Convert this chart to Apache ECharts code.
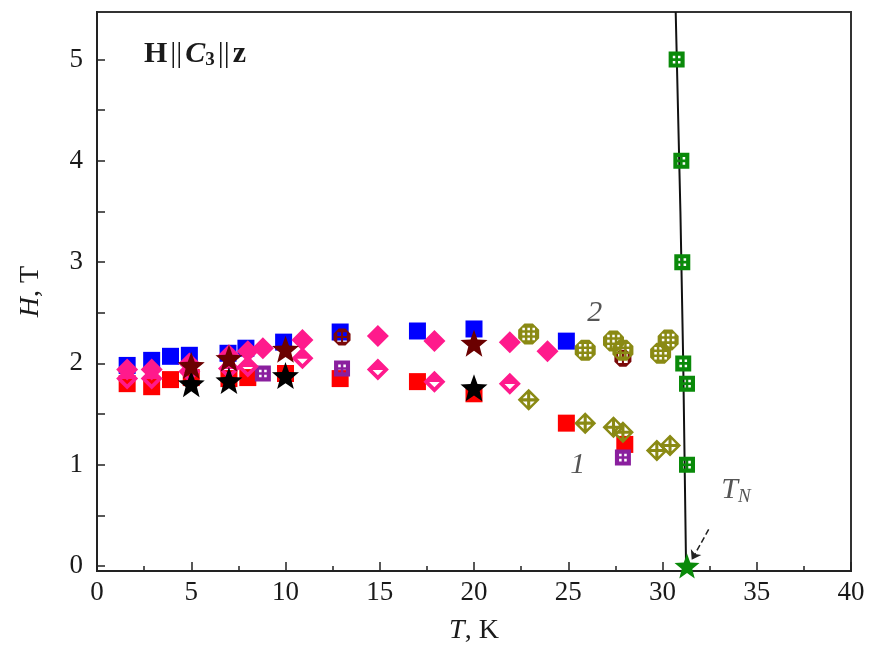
<!DOCTYPE html>
<html>
<head>
<meta charset="utf-8">
<script src="https://cdn.jsdelivr.net/npm/echarts@6/dist/echarts.min.js"></script>
<style>html,body{margin:0;padding:0;background:#fff}#chart{width:875px;height:654px}</style>
</head>
<body>
<div id="chart"></div>
<script>
// ---- data (T in K, H in T) ----
var redSquares    = [[1.6,1.8],[2.9,1.77],[3.9,1.84],[5,1.86],[7,1.85],[8,1.86],[10,1.9],[12.9,1.85],[17,1.82],[20,1.7],[24.9,1.41],[28,1.2]];
var blueSquares   = [[1.6,1.98],[2.9,2.03],[3.9,2.07],[4.9,2.08],[6.95,2.1],[7.9,2.15],[9.9,2.21],[12.9,2.31],[17,2.32],[20,2.34],[24.9,2.22]];
var purpleSquares = [[8.8,1.9],[13,1.95],[27.9,1.07]];
var brownCircles  = [[13,2.26],[27.9,2.05]];
var pinkFilled    = [[1.6,1.94],[2.9,1.94],[4.9,2.0],[7,2.08],[8,2.12],[8.8,2.15],[10.9,2.23],[14.9,2.27],[17.9,2.22],[21.9,2.21],[23.9,2.12]];
var pinkOpen      = [[1.6,1.85],[2.9,1.85],[4.9,1.92],[7,1.95],[8,1.97],[10.9,2.05],[14.9,1.94],[17.9,1.82],[21.9,1.8]];
var blackStars    = [[5,1.8],[7,1.83],[10,1.88],[20,1.76]];
var maroonStars   = [[5,1.98],[7,2.05],[10,2.14],[20,2.2]];
var oliveHatched  = [[22.9,2.29],[25.9,2.13],[27.4,2.22],[27.9,2.13],[29.9,2.1],[30.3,2.23]];
var oliveDiamonds = [[22.9,1.64],[25.9,1.41],[27.4,1.37],[27.9,1.32],[29.7,1.14],[30.4,1.19]];
var phaseLine     = [[31.25,0],[31.1,2],[30.95,3.5],[30.7,5.47]];
var greenSquares  = [[30.75,5],[31.0,4],[31.05,3],[31.1,2],[31.3,1.8],[31.3,1]];
var neelPoint     = [[31.3,0]];
var textMarks     = [{value:[26.4,2.5], name:'2'}, {value:[25.5,1.0], name:'1'}, {value:[33.9,0.75], name:'TN'}];
var arrowFrom = [32.45,0.36], arrowTo = [31.55,0.06];
var yLabels = [0,1,2,3,4,5];
var yTicks  = [0,0.5,1,1.5,2,2.5,3,3.5,4,4.5,5];

// ---- marker shapes ----
function poly(pts, hole){
    var a = 0;
    for (var i = 0; i < pts.length; i++){
        var p = pts[i], q = pts[(i+1)%pts.length];
        a += p[0]*q[1] - q[0]*p[1];
    }
    if ((a < 0) !== !!hole) pts = pts.slice().reverse();
    return 'M' + pts.map(function(p){return p[0].toFixed(2)+','+p[1].toFixed(2);}).join('L') + 'Z';
}
function sq(x,y,s){ return [[x,y],[x+s,y],[x+s,y+s],[x,y+s]]; }
var OCT = [[3,0],[7,0],[10,3],[10,7],[7,10],[3,10],[0,7],[0,3]];
var DIA = [[5,0],[10,5],[5,10],[0,5]];

var gridSquare = 'path://' + poly(sq(0,0,10)) + poly(sq(2.6,2.6,1.6),1) + poly(sq(5.8,2.6,1.6),1) + poly(sq(2.6,5.8,1.6),1) + poly(sq(5.8,5.8,1.6),1);
var crossCircle = 'path://' + poly(OCT) + poly(sq(2.2,2.2,2.2),1) + poly(sq(5.6,2.2,2.2),1) + poly(sq(2.2,5.6,2.2),1) + poly(sq(5.6,5.6,2.2),1);
var hatched = (function(){
    var s = poly(OCT);
    [2.0,4.4,6.8].forEach(function(x){ [2.0,4.4,6.8].forEach(function(y){ s += poly(sq(x,y,1.2),1); }); });
    return 'path://' + s;
})();
var crossDiamond = 'path://' + poly(DIA) + poly([[4.3,2.3],[2.3,4.3],[4.3,4.3]],1) + poly([[5.7,2.3],[7.7,4.3],[5.7,4.3]],1)
    + poly([[2.3,5.7],[4.3,5.7],[4.3,7.7]],1) + poly([[5.7,5.7],[7.7,5.7],[5.7,7.7]],1);
var openDiamond = 'path://' + poly(DIA) + poly([[2.6,5.2],[7.4,5.2],[5,7.6]],1);
var star = (function(){
    var pts = [];
    for (var i = 0; i < 10; i++){
        var r = i % 2 ? 2.1 : 5, ang = -Math.PI/2 + i*Math.PI/5;
        pts.push([5 + r*Math.cos(ang), 5.2 + r*Math.sin(ang)]);
    }
    return 'path://' + poly(pts);
})();

function scat(name, data, symbol, size, color, z){
    return {name:name, type:'scatter', data:data, symbol:symbol, symbolSize:size, z:z||2,
            itemStyle:{color:color, opacity:1}, silent:true};
}

var serif = '"Liberation Serif", "Times New Roman", Times, serif';
var ink = '#1a1a1a';
var chart = echarts.init(document.getElementById('chart'));
var option = {
    animation: false,
    title: {
        text: '{b|H}{n|||}{c|C}{s|3}{n|||}{b|z}',
        left: 139, top: 33,
        textStyle: {
            rich: {
                b: {fontFamily:serif, fontWeight:'bold', fontSize:30, color:ink},
                c: {fontFamily:serif, fontStyle:'italic', fontWeight:'bold', fontSize:30, color:ink},
                n: {fontFamily:serif, fontWeight:'normal', fontSize:30, color:ink, padding:[0,3,0,3]},
                s: {fontFamily:serif, fontWeight:'bold', fontSize:19, color:ink, padding:[13,0,0,0]}
            }
        }
    },
    grid: {left:97, right:24, top:12, bottom:83, show:true, borderColor:'#333', borderWidth:2},
    xAxis: {
        type:'value', min:0, max:40, interval:5,
        name:'{i|T}, K', nameLocation:'middle', nameGap:46,
        nameTextStyle:{fontFamily:serif, fontSize:28, color:ink, rich:{i:{fontFamily:serif, fontStyle:'italic', fontSize:28, color:ink}}},
        axisLine:{onZero:false, lineStyle:{color:'#222', width:2}},
        axisTick:{inside:true, length:9, lineStyle:{color:'#222', width:1.5}},
        minorTick:{show:true, splitNumber:2, length:5, lineStyle:{color:'#222', width:1.5}},
        axisLabel:{fontFamily:serif, fontSize:27, color:ink, margin:8},
        splitLine:{show:false}
    },
    yAxis: {
        type:'value', min:-0.05, max:5.47,
        name:'{i|H}, T', nameLocation:'middle', nameGap:52,
        nameTextStyle:{fontFamily:serif, fontSize:28, color:ink, rich:{i:{fontFamily:serif, fontStyle:'italic', fontSize:28, color:ink}}},
        axisLine:{onZero:false, lineStyle:{color:'#222', width:2}},
        axisTick:{inside:true, length:8, customValues:yTicks, lineStyle:{color:'#222', width:1.5}},
        axisLabel:{fontFamily:serif, fontSize:27, color:ink, margin:14, customValues:yLabels},
        splitLine:{show:false}
    },
    series: [
        scat('red', redSquares, 'rect', 17, '#ff0000', 2),
        scat('blue', blueSquares, 'rect', 17, '#0000ff', 2),
        scat('purple', purpleSquares, gridSquare, 16, '#8a1f9e', 3),
        scat('brown', brownCircles, crossCircle, 17, '#7a0a0a', 3),
        scat('pinkFilled', pinkFilled, 'diamond', [22,22], '#ff1a8c', 4),
        scat('pinkOpen', pinkOpen, openDiamond, [22,22], '#ff1a8c', 4),
        scat('blackStar', blackStars, star, 27, '#000000', 5),
        scat('maroonStar', maroonStars, star, 27, '#6b0000', 5),
        scat('oliveHatched', oliveHatched, hatched, 21, '#8a8a14', 4),
        scat('oliveDiamond', oliveDiamonds, crossDiamond, 22, '#8a8a14', 4),
        {
            name:'TN line', type:'line', data:phaseLine, showSymbol:false, smooth:false, z:6, silent:true,
            lineStyle:{color:'#111', width:2},
            markLine:{
                silent:true, symbol:['none','arrow'], symbolSize:9,
                lineStyle:{color:'#222', width:1.5, type:'dashed'},
                label:{show:false},
                data:[[{coord:arrowFrom},{coord:arrowTo}]]
            }
        },
        scat('green', greenSquares, gridSquare, 16, '#0a8a0a', 7),
        scat('neel', neelPoint, star, 25, '#0a8a0a', 8),
        {
            name:'text', type:'scatter', data:textMarks, symbolSize:0, silent:true, z:9,
            label:{
                show:true, position:'inside',
                formatter:function(p){ return p.name === 'TN' ? '{i|T}{s|N}' : '{i|' + p.name + '}'; },
                rich:{
                    i:{fontFamily:serif, fontStyle:'italic', fontSize:30, color:'#2a2a2a'},
                    s:{fontFamily:serif, fontStyle:'italic', fontSize:19, color:'#2a2a2a', padding:[14,0,0,0]}
                }
            }
        }
    ]
};
chart.setOption(option);
</script>
</body>
</html>
